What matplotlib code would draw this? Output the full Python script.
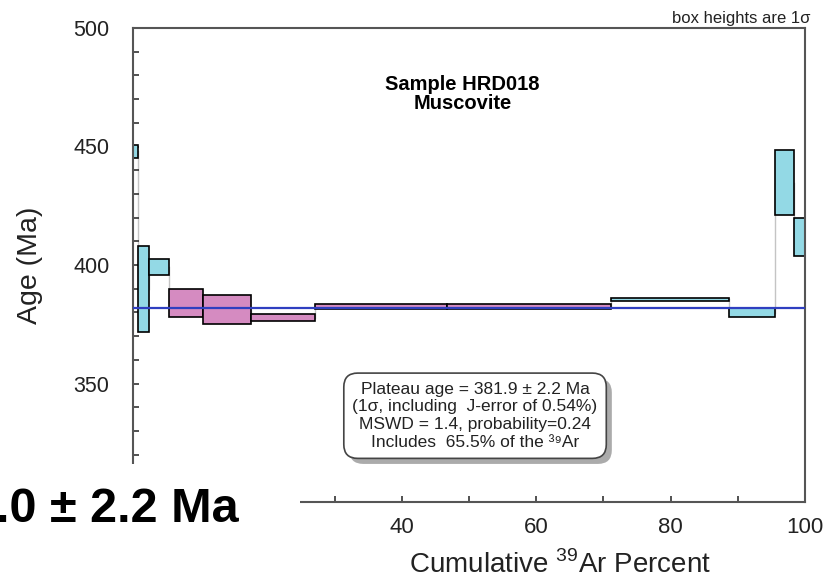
import numpy as np
import matplotlib
matplotlib.use("Agg")
import matplotlib.pyplot as plt
from matplotlib.patches import Rectangle
from matplotlib.ticker import MultipleLocator
import matplotlib.patheffects as pe

plt.rcParams['font.family'] = ['Liberation Sans', 'DejaVu Sans']
plt.rcParams['mathtext.fontset'] = 'custom'
plt.rcParams['mathtext.rm'] = 'Liberation Sans'

# step heating data
edges = [0, 0.7, 2.4, 5.4, 10.45, 17.5, 27.1, 46.8, 71.1, 88.7, 95.5, 98.4, 100]
ages = [447.9, 389.9, 399.0, 384.0, 381.05, 377.8, 382.35, 382.4, 385.6, 379.9, 434.7, 411.8]
errs = [2.7, 18.2, 3.4, 5.95, 6.15, 1.4, 1.1, 1.05, 0.65, 1.8, 13.8, 8.0]
in_plateau = [False, False, False, True, True, True, True, True, False, False, False, False]
plateau_age = 381.9

# tick labels (the lower-left ones sit under the white patch)
xticks = [0, 20, 40, 60, 80, 100]
xlabels = ['', '', '40', '60', '80', '100']
yticks = [300, 350, 400, 450, 500]
ylabels = ['', '350', '400', '450', '500']

edges = np.array(edges)
ages = np.array(ages)
errs = np.array(errs)
widths = np.diff(edges)
colors = ['#d58bc1' if p else '#93d9e5' for p in in_plateau]

W, H = 834, 585
fig = plt.figure(figsize=(W/100, H/100), dpi=100)
ax = fig.add_axes([133/W, 1-502/H, (805-133)/W, (502-28)/H])

# grey connectors between steps
for i in range(len(ages)-1):
    ax.plot([edges[i+1], edges[i+1]], [ages[i], ages[i+1]], color='#c4c4c4', lw=1, zorder=1)

ax.bar(edges[:-1], 2*errs, width=widths, bottom=ages-errs, align='edge',
       color=colors, edgecolor='black', lw=1.2, zorder=2)
ax.axhline(plateau_age, color='#2f3fc0', lw=1.6, zorder=3)

ax.set_xlim(0, 100)
ax.set_ylim(300, 500)
ax.set_xticks(xticks, xlabels)
ax.set_yticks(yticks, ylabels)
ax.xaxis.set_minor_locator(MultipleLocator(10))
ax.yaxis.set_minor_locator(MultipleLocator(10))
ax.tick_params(which='both', direction='in', length=4, width=1.2, color='#333333',
               top=False, right=False, labelcolor='#222222')
ax.tick_params(axis='y', which='both', pad=17, labelsize=15.5)
ax.tick_params(axis='x', which='both', pad=11, labelsize=16)
for s in ax.spines.values():
    s.set_color('#555555')
    s.set_linewidth(1.5)

ax.text(0.49, 0.86, 'Sample HRD018\nMuscovite', transform=ax.transAxes, ha='center', va='center',
        fontsize=14.5, fontweight='bold', linespacing=1.0)
fig.text(810/W, 1-18/H, 'box heights are 1σ', ha='right', va='center', fontsize=12, color='#222222')

info = ('Plateau age = 381.9 ± 2.2 Ma\n(1σ, including  J-error of 0.54%)\n'
        'MSWD = 1.4, probability=0.24\nIncludes  65.5% of the ³⁹Ar')
t = ax.text(50.9, 336.4, info, ha='center', va='center', fontsize=12.5, linespacing=1.22,
            color='#222222', zorder=5,
            bbox=dict(boxstyle='round,pad=0.5,rounding_size=0.8', fc='white', ec='#444444', lw=1.2))
t.get_bbox_patch().set_path_effects([
    pe.SimplePatchShadow(offset=(4, -4), shadow_rgbFace='#888888', alpha=0.7), pe.Normal()])

fig.text(30/W, 1-265/H, 'Age (Ma)', rotation=90, ha='center', va='center', fontsize=20.5, color='#222222')
fig.text(560/W, 1-565/H, r'Cumulative $^{39}$Ar Percent', ha='center', va='center', fontsize=20,
         color='#222222')

# white patch over the lower left corner with the clipped headline
mask = Rectangle((0, 0), 300/W, 1-464/H, transform=fig.transFigure, facecolor='white',
                 edgecolor='none', zorder=10)
fig.add_artist(mask)
fig.text(-4/W, 1-522/H, '.0 ± 2.2 Ma', ha='left', va='baseline', fontsize=35,
         fontweight='bold', color='black', zorder=11)

fig.savefig('out.png', dpi=100)
